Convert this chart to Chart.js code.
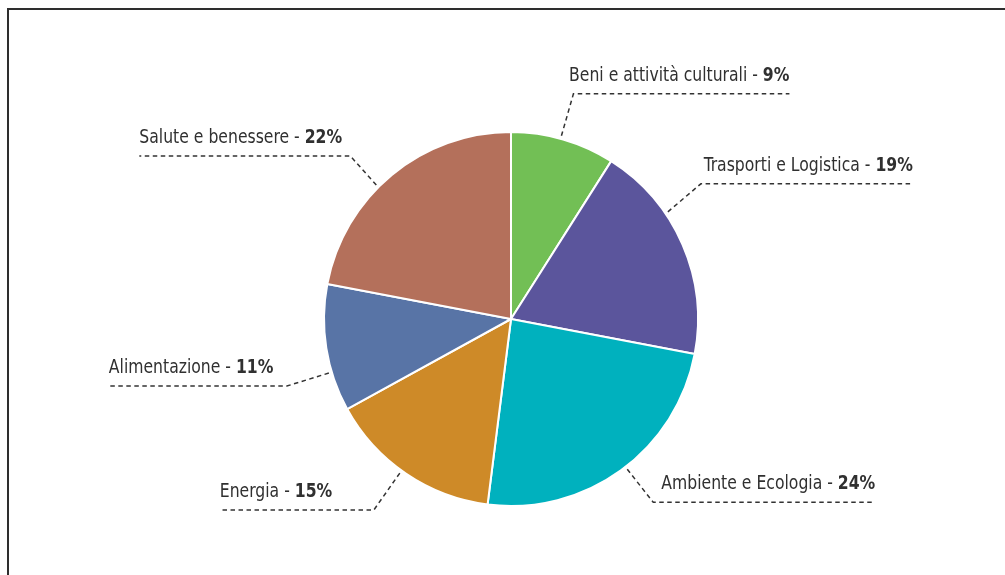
<!DOCTYPE html>
<html lang="it">
<head>
    <meta charset="UTF-8">
    <title>Settori</title>
    <script src="https://cdn.jsdelivr.net/npm/chart.js"></script>
    <style>
        body {
            margin: 0;
            background: #ffffff;
            overflow: hidden;
        }

        .frame {
            position: absolute;
            left: 7px;
            top: 8px;
            width: 1200px;
            height: 800px;
            border: 2px solid #2e2e2e;
        }

        .wrap {
            position: absolute;
            left: 0;
            top: 0;
            width: 1005px;
            height: 575px;
        }
    </style>
</head>
<body>
    <div class="frame"></div>
    <div class="wrap">
        <canvas id="chart" width="1005" height="575"></canvas>
    </div>

    <script>
        const categories = [
            'Beni e attività culturali',
            'Trasporti e Logistica',
            'Ambiente e Ecologia',
            'Energia',
            'Alimentazione',
            'Salute e benessere'
        ];
        const shares = [9, 19, 24, 15, 11, 22];
        const sliceColors = ['#72bf55', '#5b559c', '#00b1be', '#ce8a28', '#5874a6', '#b4705b'];

        // leader placement: where on the slice the line starts, the elbow offset,
        // and how long the horizontal run under the text is (negative = to the left)
        const leaderPos = [0.475, 0.34, 0.48, 0.53, 0.31, 0.43];
        const elbowDx = [12, 33, 26, -26, -42, -26];
        const elbowDy = [-42, -28, 33, 37, 13, -29];
        const runLength = [216, 212, 222, -154, -178, -211];

        const labelFont = '19px "DejaVu Sans Condensed", "DejaVu Sans", sans-serif';
        const labelFontBold = 'bold 19px "DejaVu Sans Condensed", "DejaVu Sans", sans-serif';
        const squeeze = 0.915; // narrow the face a little more

        const leaderLabels = {
            id: 'leaderLabels',
            afterDatasetsDraw(chart) {
                const ctx = chart.ctx;
                const meta = chart.getDatasetMeta(0);
                meta.data.forEach((arc, i) => {
                    const p = arc.getProps(['x', 'y', 'startAngle', 'endAngle', 'outerRadius'], true);
                    const a = p.startAngle + leaderPos[i] * (p.endAngle - p.startAngle);
                    const r = p.outerRadius + 3;
                    const ax = p.x + Math.cos(a) * r;
                    const ay = p.y + Math.sin(a) * r;
                    const ex = ax + elbowDx[i];
                    const ey = ay + elbowDy[i];
                    const endX = ex + runLength[i];

                    ctx.save();
                    ctx.strokeStyle = '#333333';
                    ctx.lineWidth = 1.5;
                    ctx.setLineDash([4.5, 3.5]);
                    ctx.beginPath();
                    ctx.moveTo(ax, ay);
                    ctx.lineTo(ex, ey);
                    ctx.lineTo(endX, ey);
                    ctx.stroke();
                    ctx.setLineDash([]);

                    // text sits on the far end of the run
                    const main = categories[i] + ' - ';
                    const pct = shares[i] + '%';
                    ctx.font = labelFont;
                    const w1 = ctx.measureText(main).width;
                    ctx.font = labelFontBold;
                    const w2 = ctx.measureText(pct).width;
                    const total = (w1 + w2) * squeeze;
                    const left = runLength[i] > 0 ? endX - total : endX;
                    const base = ey - 13;
                    ctx.translate(left, base);
                    ctx.scale(squeeze, 1);
                    ctx.fillStyle = '#303030';
                    ctx.textBaseline = 'alphabetic';
                    ctx.textAlign = 'left';
                    ctx.font = labelFont;
                    ctx.fillText(main, 0, 0);
                    ctx.font = labelFontBold;
                    ctx.fillText(pct, w1, 0);
                    ctx.restore();
                });
            }
        };

        new Chart(document.getElementById('chart'), {
            type: 'pie',
            data: {
                labels: categories,
                datasets: [{
                    data: shares,
                    backgroundColor: sliceColors,
                    borderColor: '#ffffff',
                    borderWidth: 2
                }]
            },
            options: {
                responsive: false,
                animation: false,
                layout: {
                    padding: { top: 131, bottom: 68, left: 17, right: 0 }
                },
                plugins: {
                    legend: { display: false },
                    tooltip: { enabled: false }
                }
            },
            plugins: [leaderLabels]
        });
    </script>
</body>
</html>
